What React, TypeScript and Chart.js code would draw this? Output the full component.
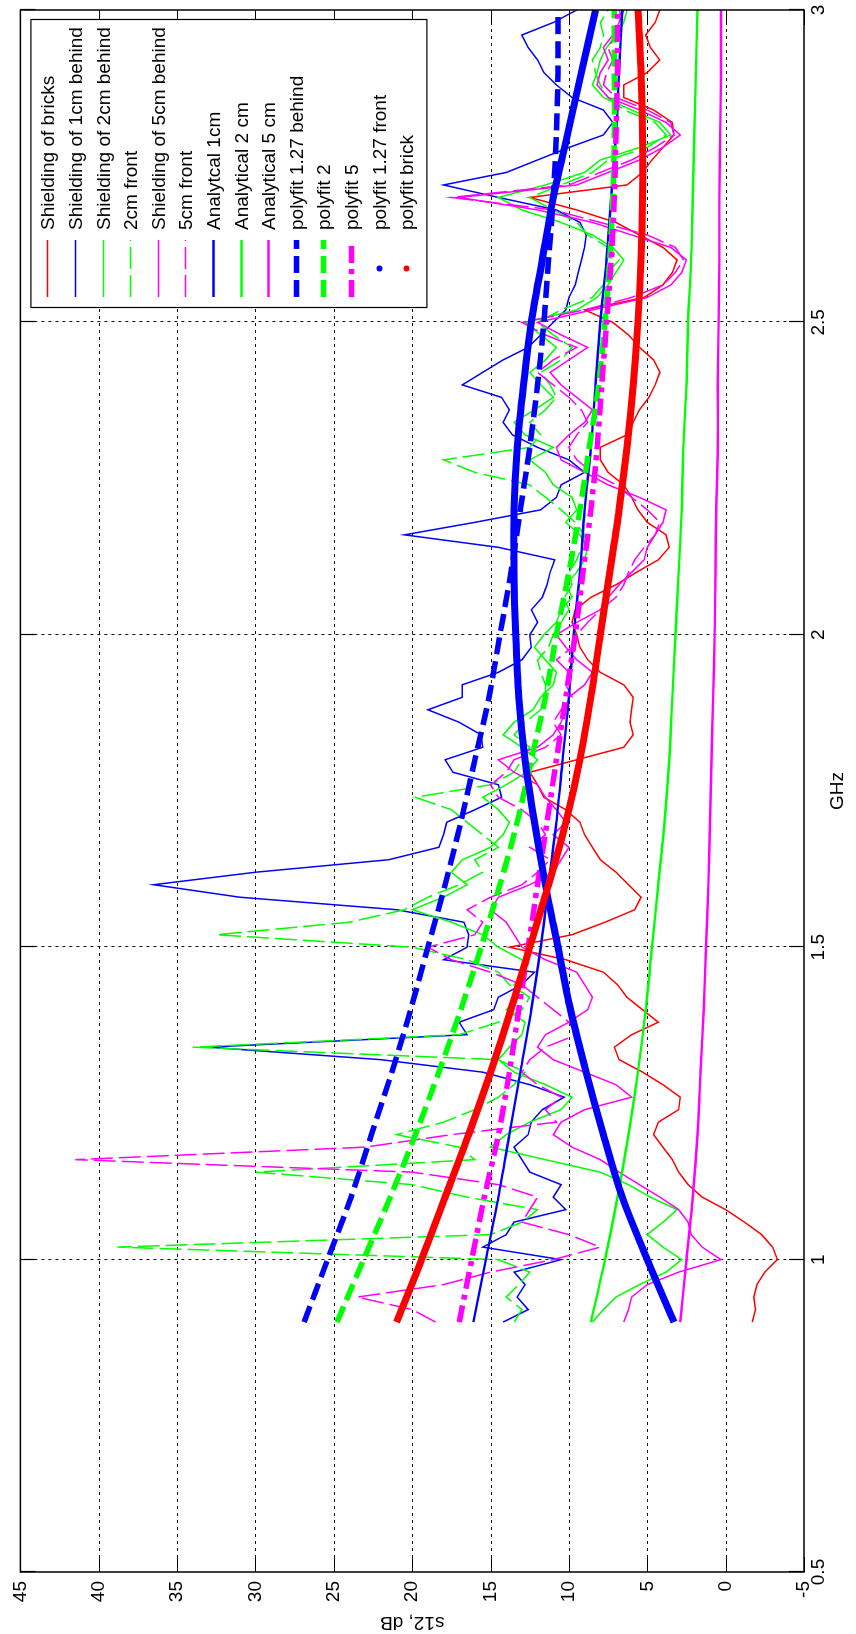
import React, { useEffect, useRef } from "react";
import { Chart, registerables } from "chart.js";

Chart.register(...registerables);

// ---------- axes ----------
const xTicks = [0.5, 1, 1.5, 2, 2.5, 3];
const xTickLabels = ["0.5", "1", "1.5", "2", "2.5", "3"];
const yTicks = [-5, 0, 5, 10, 15, 20, 25, 30, 35, 40, 45];

// ---------- measured frequency grid (GHz) ----------
const freqMeasured = [
  0.9, 0.92, 0.94, 0.96, 0.98, 1.0, 1.02, 1.04, 1.06, 1.08, 1.1, 1.12, 1.14, 1.16, 1.18, 1.2, 1.22,
  1.24, 1.26, 1.28, 1.3, 1.32, 1.34, 1.36, 1.38, 1.4, 1.42, 1.44, 1.46, 1.48, 1.5, 1.52, 1.54, 1.56, 1.58,
  1.6, 1.62, 1.64, 1.66, 1.68, 1.7, 1.72, 1.74, 1.76, 1.78, 1.8, 1.82, 1.84, 1.86, 1.88, 1.9, 1.92, 1.94,
  1.96, 1.98, 2.0, 2.02, 2.04, 2.06, 2.08, 2.1, 2.12, 2.14, 2.16, 2.18, 2.2, 2.22, 2.24, 2.26, 2.28, 2.3,
  2.32, 2.34, 2.36, 2.38, 2.4, 2.42, 2.44, 2.46, 2.48, 2.5, 2.52, 2.54, 2.56, 2.58, 2.6, 2.62, 2.64, 2.66,
  2.68, 2.7, 2.72, 2.74, 2.76, 2.78, 2.8, 2.82, 2.84, 2.86, 2.88, 2.9, 2.92, 2.94, 2.96, 2.98, 3.0,
];

// Shielding of bricks
const bricksDb = [
  -1.7, -1.9, -1.8, -2.0, -2.5, -3.3, -3.0, -2.3, -1.2, 0.0, 1.5, 2.4, 3.0, 3.4, 4.0, 4.6, 4.3,
  3.0, 2.9, 4.0, 5.3, 6.8, 7.1, 6.0, 4.3, 5.3, 6.3, 6.9, 7.8, 10.2, 13.8, 9.8, 7.7, 5.8, 5.4,
  6.2, 7.0, 8.0, 8.5, 9.0, 9.3, 10.2, 11.6, 12.0, 12.5, 9.5, 6.5, 5.9, 6.1, 6.0, 5.9, 6.5, 8.0,
  8.8, 9.3, 9.5, 9.8, 9.6, 8.6, 7.0, 5.7, 4.3, 3.6, 3.8, 5.0, 5.6, 6.0, 6.5, 7.5, 8.0, 8.0,
  6.3, 5.9, 5.5, 4.9, 4.5, 4.2, 4.6, 5.5, 6.2, 7.2, 9.0, 5.2, 4.0, 3.4, 3.1, 4.0, 5.5, 7.0,
  9.5, 12.5, 6.3, 5.3, 4.7, 4.0, 3.3, 3.4, 4.6, 6.5, 6.5, 5.0, 4.2, 4.8, 5.1, 4.5, 4.2,
];

// Shielding of 1cm behind
const behind1Db = [
  14.2, 12.6, 13.3, 12.8, 13.5, 10.5, 15.5, 14.0, 13.5, 10.2, 11.0, 10.5, 12.5, 13.0, 13.5, 12.6, 12.4,
  11.7, 10.3, 12.5, 15.5, 22.0, 33.0, 16.5, 17.0, 14.8, 14.5, 13.0, 12.2, 18.0, 16.5, 16.4, 16.7, 21.0, 31.0,
  36.5, 30.0, 21.5, 18.3, 18.0, 17.8, 16.0, 14.3, 14.5, 17.4, 17.9, 15.5, 15.6, 17.0, 19.0, 16.8, 16.8, 14.5,
  13.0, 12.4, 12.5, 12.0, 12.4, 11.7, 11.4, 11.2, 10.9, 14.5, 20.5, 16.0, 11.8, 10.8, 10.5, 9.0, 10.0, 12.0,
  13.6, 14.2, 13.8, 14.3, 16.8, 15.5, 14.2, 12.6, 11.8, 11.0, 10.2, 10.0, 9.6, 9.4, 9.2, 9.0, 8.9, 9.3,
  10.8, 14.5, 18.0, 14.0, 12.0, 10.0, 7.8, 7.2, 7.8, 9.8, 10.8, 11.6, 12.0, 12.6, 13.0, 11.0, 9.5,
];

// Shielding of 2cm behind
const behind2Db = [
  8.5, 7.8, 7.0, 5.5, 3.8, 2.8, 4.0, 5.0, 4.0, 3.1, 4.8, 6.2, 8.0, 11.5, 15.0, 14.0, 12.5,
  10.5, 9.8, 11.5, 13.5, 14.5, 13.8, 13.0, 12.8, 14.0, 13.2, 13.5, 12.8, 13.0, 14.5, 15.5, 17.5, 20.0, 18.0,
  16.5, 17.5, 16.8, 15.0, 14.2, 13.8, 14.5, 15.5, 14.0, 12.7, 12.0, 13.0, 14.2, 13.5, 12.3, 11.8, 11.0, 10.8,
  11.5, 12.2, 11.6, 10.8, 10.5, 9.8, 10.2, 9.5, 9.0, 8.8, 9.3, 10.2, 9.5, 9.8, 11.0, 11.5, 12.5, 11.0,
  12.8, 13.5, 12.2, 11.0, 11.8, 12.5, 11.5, 10.8, 11.8, 12.8, 9.5, 8.2, 7.5, 7.0, 6.5, 7.2, 8.5, 10.5,
  13.0, 14.5, 11.5, 9.0, 8.0, 5.5, 3.5, 4.2, 6.0, 7.8, 8.5, 8.2, 8.0, 7.6, 7.0, 6.5, 6.3,
];

// 2cm front
const front2Db = [
  13.5, 13.0, 14.0, 13.2, 12.5, 14.5, 38.8, 15.0, 13.0, 12.0, 16.5, 20.0, 30.0, 16.0, 17.0, 21.0, 18.0,
  16.0, 14.5, 13.5, 12.8, 14.5, 34.0, 17.0, 14.5, 13.0, 12.5, 13.8, 14.5, 16.5, 20.0, 32.5, 24.0, 20.5, 19.0,
  17.0, 15.5, 16.0, 14.5, 15.5, 16.5, 17.5, 19.8, 15.0, 13.5, 13.0, 12.5, 13.5, 12.8, 11.8, 11.5, 11.5, 11.8,
  12.0, 11.3, 11.0, 10.5, 10.0, 10.3, 9.8, 10.0, 9.5, 9.2, 9.0, 9.6, 10.5, 11.5, 12.5, 16.0, 18.0, 12.5,
  11.8, 12.5, 11.5, 10.8, 11.2, 11.8, 10.5, 9.8, 11.0, 12.0, 10.5, 8.5, 7.8, 7.5, 6.8, 7.5, 8.8, 9.5,
  11.0, 12.5, 10.5, 8.5, 7.5, 5.0, 3.8, 4.5, 6.5, 7.5, 8.0, 8.3, 8.5, 8.0, 7.8, 8.0, 7.5,
];

// Shielding of 5cm behind
const behind5Db = [
  6.5, 6.2, 6.0, 5.0, 3.0, 0.3, 1.5, 2.2, 2.4, 3.0, 4.2, 5.5, 6.8, 8.0, 9.8, 11.0, 10.5,
  9.0, 6.0, 7.0, 9.0, 11.0, 12.0, 11.5, 10.0, 8.8, 8.5, 9.0, 9.5, 11.5, 13.0, 13.5, 14.0, 15.0, 14.5,
  12.5, 11.0, 10.5, 10.0, 11.0, 10.2, 10.8, 11.5, 12.0, 13.5, 14.5, 12.0, 11.0, 10.5, 10.2, 10.0, 9.0, 8.5,
  9.5, 10.2, 10.8, 9.5, 8.0, 7.5, 6.8, 6.0, 5.2, 5.0, 4.5, 4.0, 3.8, 5.5, 7.5, 9.0, 10.5, 10.8,
  10.0, 9.0, 8.5, 9.5, 10.5, 11.2, 10.0, 8.8, 10.5, 12.0, 8.5, 5.0, 3.5, 2.8, 2.5, 3.5, 6.0, 8.5,
  12.0, 17.0, 9.5, 7.5, 5.5, 4.0, 2.9, 3.8, 5.5, 7.5, 8.2, 8.0, 7.5, 7.8, 7.2, 6.8, 6.5,
];

// 5cm front
const front5Db = [
  18.5, 20.0, 23.5, 18.0, 15.0, 11.0, 8.0, 10.0, 13.0, 12.5, 12.0, 14.5, 20.0, 41.5, 23.0, 17.5, 10.8,
  11.5, 10.5, 12.0, 13.0, 12.5, 11.5, 9.5, 10.0, 11.0, 12.0, 13.0, 15.0, 17.5, 19.0, 16.0, 15.5, 16.5, 15.0,
  13.0, 12.0, 11.2, 12.5, 11.5, 12.0, 13.0, 14.5, 15.0, 14.0, 13.5, 11.5, 10.5, 11.0, 10.5, 9.8, 10.2, 10.0,
  10.8, 9.8, 9.5, 8.8, 8.0, 7.0, 6.5, 6.2, 5.8, 5.2, 4.5, 4.2, 5.0, 6.0, 7.0, 8.5, 9.5, 10.0,
  9.5, 8.8, 9.2, 10.0, 11.0, 12.0, 11.0, 9.5, 11.5, 13.0, 9.0, 6.0, 4.0, 3.2, 2.7, 3.2, 5.0, 8.0,
  11.0, 17.5, 10.0, 8.0, 6.0, 4.5, 3.3, 3.5, 5.0, 7.0, 7.8, 7.6, 7.2, 7.5, 7.0, 6.5, 6.8,
];

// ---------- analytical / fitted curves (GHz grid) ----------
const freqFit = [0.9, 1.0, 1.1, 1.2, 1.3, 1.4, 1.5, 1.6, 1.7, 1.8, 1.9, 2.0, 2.1, 2.2, 2.3, 2.4, 2.5, 2.6, 2.7, 2.8, 2.9, 3.0];
const analytical1Db = [16.1, 15.3, 14.5, 13.8, 13.1, 12.4, 11.8, 11.3, 10.8, 10.4, 10.0, 9.7, 9.3, 9.0, 8.6, 8.3, 8.0, 7.6, 7.3, 7.0, 6.8, 6.6];
const analytical2Db = [8.6, 7.7, 6.9, 6.2, 5.6, 5.1, 4.7, 4.3, 3.9, 3.6, 3.4, 3.2, 3.0, 2.8, 2.7, 2.5, 2.4, 2.2, 2.1, 2.0, 1.9, 1.8];
const analytical5Db = [2.9, 2.5, 2.1, 1.8, 1.6, 1.4, 1.25, 1.1, 1.0, 0.9, 0.8, 0.7, 0.65, 0.6, 0.5, 0.5, 0.45, 0.4, 0.4, 0.35, 0.3, 0.3];
const polyBehindDb = [26.9, 25.4, 23.9, 22.6, 21.3, 20.1, 19.0, 17.9, 16.9, 16.0, 15.1, 14.4, 13.7, 13.1, 12.5, 12.0, 11.6, 11.3, 11.0, 10.8, 10.7, 10.7];
const poly2Db = [24.8, 23.1, 21.4, 19.8, 18.3, 16.9, 15.6, 14.4, 13.3, 12.4, 11.5, 10.8, 10.0, 9.3, 8.7, 8.1, 7.7, 7.4, 7.2, 7.1, 7.1, 7.1];
const poly5Db = [17.0, 16.2, 15.4, 14.5, 13.8, 13.2, 12.6, 12.0, 11.4, 10.8, 10.2, 9.6, 9.1, 8.6, 8.2, 7.9, 7.6, 7.3, 7.1, 7.0, 6.9, 6.9];
const polyFrontDb = [3.3, 5.0, 6.6, 7.8, 8.9, 9.9, 10.7, 11.5, 12.2, 12.8, 13.2, 13.4, 13.5, 13.5, 13.3, 12.9, 12.4, 11.7, 11.0, 10.1, 9.2, 8.3];
const polyBrickDb = [21.0, 19.4, 17.9, 16.4, 15.0, 13.7, 12.5, 11.3, 10.2, 9.3, 8.6, 8.0, 7.4, 6.8, 6.3, 5.9, 5.6, 5.4, 5.3, 5.3, 5.4, 5.6];

const seriesLabels = [
  "Shielding of bricks",
  "Shielding of 1cm behind",
  "Shielding of 2cm behind",
  "2cm front",
  "Shielding of 5cm behind",
  "5cm front",
  "Analytcal 1cm",
  "Analytical 2 cm",
  "Analytical 5 cm",
  "polyfit 1.27 behind",
  "polyfit 2",
  "polyfit 5",
  "polyfit 1.27 front",
  "polyfit brick",
];

const RED = "#ff0000";
const BLUE = "#0000ff";
const GREEN = "#00ff00";
const MAGENTA = "#ff00ff";
const FONT = '"Liberation Sans", Arial, Helvetica, sans-serif';

export default function App() {
  const ref = useRef<HTMLCanvasElement | null>(null);

  useEffect(() => {
    const canvas = ref.current;
    if (!canvas) return;

    const styles = [
      { freq: freqMeasured, vals: bricksDb, color: RED, width: 1.5, dash: [] as number[], smooth: false, marker: false },
      { freq: freqMeasured, vals: behind1Db, color: BLUE, width: 1.5, dash: [], smooth: false, marker: false },
      { freq: freqMeasured, vals: behind2Db, color: GREEN, width: 1.5, dash: [], smooth: false, marker: false },
      { freq: freqMeasured, vals: front2Db, color: GREEN, width: 1.5, dash: [22, 6], smooth: false, marker: false },
      { freq: freqMeasured, vals: behind5Db, color: MAGENTA, width: 1.5, dash: [], smooth: false, marker: false },
      { freq: freqMeasured, vals: front5Db, color: MAGENTA, width: 1.5, dash: [22, 6], smooth: false, marker: false },
      { freq: freqFit, vals: analytical1Db, color: BLUE, width: 2.4, dash: [], smooth: true, marker: false },
      { freq: freqFit, vals: analytical2Db, color: GREEN, width: 2.4, dash: [], smooth: true, marker: false },
      { freq: freqFit, vals: analytical5Db, color: MAGENTA, width: 2.4, dash: [], smooth: true, marker: false },
      { freq: freqFit, vals: polyBehindDb, color: BLUE, width: 5.5, dash: [17, 7], smooth: true, marker: false },
      { freq: freqFit, vals: poly2Db, color: GREEN, width: 5.5, dash: [17, 7], smooth: true, marker: false },
      { freq: freqFit, vals: poly5Db, color: MAGENTA, width: 5.5, dash: [17, 6, 5, 6], smooth: true, marker: false },
      { freq: freqFit, vals: polyFrontDb, color: BLUE, width: 7, dash: [], smooth: true, marker: true },
      { freq: freqFit, vals: polyBrickDb, color: RED, width: 7, dash: [], smooth: true, marker: true },
    ];

    const datasets = styles.map((s, i) => ({
      label: seriesLabels[i],
      data: s.freq.map((f, k) => ({ x: f, y: s.vals[k] })),
      borderColor: s.color,
      backgroundColor: s.color,
      borderWidth: s.width,
      borderDash: s.dash,
      pointRadius: 0,
      fill: false,
      tension: s.smooth ? 0.3 : 0,
      order: styles.length - i,
    }));

    const matlabPlugin = {
      id: "matlabLook",
      beforeDatasetsDraw(chart: any) {
        const { ctx, chartArea: a, scales } = chart;
        const xs = scales.x;
        const ys = scales.y;
        ctx.save();
        ctx.strokeStyle = "#111";
        ctx.lineWidth = 1;
        ctx.setLineDash([3, 4]);
        xTicks.forEach((v) => {
          if (v === xTicks[0] || v === xTicks[xTicks.length - 1]) return;
          const px = Math.round(xs.getPixelForValue(v)) + 0.5;
          ctx.beginPath();
          ctx.moveTo(px, a.top);
          ctx.lineTo(px, a.bottom);
          ctx.stroke();
        });
        yTicks.forEach((v) => {
          if (v === yTicks[0] || v === yTicks[yTicks.length - 1]) return;
          const py = Math.round(ys.getPixelForValue(v)) + 0.5;
          ctx.beginPath();
          ctx.moveTo(a.left, py);
          ctx.lineTo(a.right, py);
          ctx.stroke();
        });
        ctx.restore();
      },
      afterDatasetsDraw(chart: any) {
        const { ctx, chartArea: a, scales } = chart;
        const xs = scales.x;
        const ys = scales.y;
        const TL = 15;
        ctx.save();
        ctx.setLineDash([]);
        ctx.strokeStyle = "#000";
        ctx.lineWidth = 1.5;
        ctx.strokeRect(a.left, a.top, a.right - a.left, a.bottom - a.top);
        ctx.lineWidth = 1.2;
        xTicks.forEach((v) => {
          const px = Math.round(xs.getPixelForValue(v)) + 0.5;
          ctx.beginPath();
          ctx.moveTo(px, a.bottom);
          ctx.lineTo(px, a.bottom - TL);
          ctx.moveTo(px, a.top);
          ctx.lineTo(px, a.top + TL);
          ctx.stroke();
        });
        yTicks.forEach((v) => {
          const py = Math.round(ys.getPixelForValue(v)) + 0.5;
          ctx.beginPath();
          ctx.moveTo(a.left, py);
          ctx.lineTo(a.left + TL, py);
          ctx.moveTo(a.right, py);
          ctx.lineTo(a.right - TL, py);
          ctx.stroke();
        });
        ctx.restore();
      },
      afterDraw(chart: any) {
        const { ctx, chartArea: a } = chart;
        const boxW = 288;
        const boxH = 396;
        const boxR = a.right - 10;
        const boxT = a.top + 10;
        const boxL = boxR - boxW;
        ctx.save();
        ctx.fillStyle = "#fff";
        ctx.fillRect(boxL, boxT, boxW, boxH);
        ctx.strokeStyle = "#000";
        ctx.lineWidth = 1.2;
        ctx.setLineDash([]);
        ctx.strokeRect(boxL + 0.5, boxT + 0.5, boxW, boxH);
        ctx.font = `19px ${FONT}`;
        ctx.textBaseline = "middle";
        ctx.textAlign = "left";
        chart.data.datasets.forEach((ds: any, i: number) => {
          const cy = Math.round(boxT + 17 + i * 27.6) + 0.5;
          const x1 = boxL + 11;
          const x2 = boxL + 68;
          const st = styles[i];
          ctx.strokeStyle = ds.borderColor;
          ctx.fillStyle = ds.borderColor;
          if (st.marker) {
            ctx.beginPath();
            ctx.arc((x1 + x2) / 2, cy, 3, 0, Math.PI * 2);
            ctx.fill();
          } else {
            ctx.lineWidth = Math.min(ds.borderWidth, 5.5);
            ctx.setLineDash(ds.borderDash || []);
            ctx.beginPath();
            ctx.moveTo(x1, cy);
            ctx.lineTo(x2, cy);
            ctx.stroke();
            ctx.setLineDash([]);
          }
          ctx.fillStyle = "#000";
          ctx.fillText(ds.label, boxL + 78, cy + 1);
        });
        ctx.restore();
      },
    };

    const chart = new Chart(canvas, {
      type: "line",
      data: { datasets: datasets as any },
      options: {
        animation: false,
        responsive: false,
        maintainAspectRatio: false,
        devicePixelRatio: 1,
        layout: { padding: { top: 18, right: 10, left: 0, bottom: 0 } },
        plugins: {
          legend: { display: false },
          tooltip: { enabled: false },
        },
        scales: {
          x: {
            type: "linear",
            min: 0.5,
            max: 3,
            afterBuildTicks: (scale: any) => {
              scale.ticks = xTicks.map((v) => ({ value: v }));
            },
            ticks: {
              color: "#000",
              font: { family: FONT, size: 19 },
              padding: 3,
              maxRotation: 0,
              minRotation: 0,
              autoSkip: false,
              callback: (value: any) => {
                const idx = xTicks.indexOf(Number(value));
                return idx >= 0 ? xTickLabels[idx] : String(value);
              },
            },
            grid: { display: false, drawTicks: false },
            border: { display: false },
            title: {
              display: true,
              text: "GHz",
              color: "#000",
              font: { family: FONT, size: 19 },
              padding: { top: 0, bottom: 7 },
            },
            afterFit: (scale: any) => {
              scale.height = 52;
            },
          },
          y: {
            type: "linear",
            min: -5,
            max: 45,
            afterBuildTicks: (scale: any) => {
              scale.ticks = yTicks.map((v) => ({ value: v }));
            },
            ticks: {
              color: "#000",
              font: { family: FONT, size: 19 },
              padding: 9,
              autoSkip: false,
              callback: (value: any) => String(value),
            },
            grid: { display: false, drawTicks: false },
            border: { display: false },
            title: {
              display: true,
              text: "s12, dB",
              color: "#000",
              font: { family: FONT, size: 19 },
              padding: { top: 0, bottom: 0 },
            },
            afterFit: (scale: any) => {
              scale.width = 62;
            },
          },
        },
      },
      plugins: [matlabPlugin],
    });

    return () => {
      chart.destroy();
    };
  }, []);

  return (
    <div
      style={{
        position: "absolute",
        left: 0,
        top: 0,
        width: 856,
        height: 1634,
        overflow: "hidden",
        background: "#fff",
      }}
    >
      <div
        style={{
          position: "absolute",
          left: 0,
          top: 0,
          width: 1634,
          height: 856,
          transformOrigin: "0 0",
          transform: "translate(0px, 1634px) rotate(-90deg)",
        }}
      >
        <canvas ref={ref} width={1634} height={856} style={{ display: "block", width: 1634, height: 856 }} />
      </div>
    </div>
  );
}
